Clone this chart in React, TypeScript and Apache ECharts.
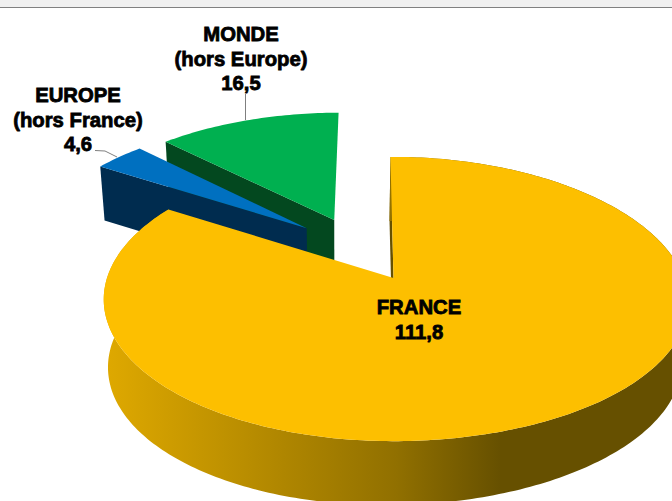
import React, { useEffect, useRef } from "react";
import * as echarts from "echarts";

// Data
const names = ["FRANCE", "EUROPE", "MONDE"];
const subtitles = ["", "(hors France)", "(hors Europe)"];
const values = [111.8, 4.6, 16.5];

// Styles (same order as the data)
const topColors = ["#fdbf00", "#0070c0", "#00b050"];
const wallColors = ["#665000", "#002c4f", "#03481f"];
const explodeU = [0, -0.318, -0.219];
const explodeV = [0, -0.378, -0.444];
const labelPos = [
  [419, 319.5],
  [78, 119.5],
  [241, 58.5],
];

// Perspective of the pie plane
const CX = 393.5;
const CY = 278;
const RX = 289;
const RY = 139;
const K = 0.148;
const START_DEG = -0.7;
const VANISH_X = 340;

const total = values.reduce((a, b) => a + b, 0);

function fmt(v: number) {
  return v.toFixed(1).replace(".", ",");
}

function project(u: number, v: number) {
  const w = 1 - K * v;
  const pos = Math.max(u, 0);
  return [
    CX + (RX * u) / w + 2.5 * u * u,
    CY + (RY * v) / w + 3.5 * pos * pos,
    u,
  ];
}

function below(p: number[], i: number) {
  const depth = i === 0 ? 64 - 4 * p[2] : 54;
  return [VANISH_X + (p[0] - VANISH_X) * 0.982, p[1] + depth];
}

function renderSlice(params: any, api: any) {
  // data is stored in painter's order: last category first
  const i = values.length - 1 - params.dataIndex;
  const val = api.value(0) as number;
  let before = 0;
  for (let j = 0; j < i; j++) before += values[j];
  const a0 = ((START_DEG + (before / total) * 360) * Math.PI) / 180;
  const a1 = a0 + (val / total) * 2 * Math.PI;
  const ou = explodeU[i];
  const ov = explodeV[i];

  const apex = project(ou, ov);
  const rim: number[][] = [];
  const steps = Math.max(6, Math.round(((a1 - a0) * 180) / Math.PI));
  for (let s = 0; s <= steps; s++) {
    const a = a0 + ((a1 - a0) * s) / steps;
    rim.push(project(ou + Math.sin(a), ov - Math.cos(a)));
  }
  const rimBelow = rim.map((p) => below(p, i));
  const apexBelow = below(apex, i);
  const first = rim[0];

  const xy = (p: number[]) => [p[0], p[1]];

  const children: any[] = [
    {
      type: "polygon",
      shape: { points: [xy(apex), xy(first), rimBelow[0], apexBelow] },
      style: { fill: wallColors[i] },
    },
  ];
  if (i === 0) {
    children.push({
      type: "polygon",
      shape: { points: [...rim.map(xy), ...rimBelow.slice().reverse()] },
      style: {
        fill: new echarts.graphic.LinearGradient(
          104,
          0,
          688,
          0,
          [
            { offset: 0, color: "#dfa900" },
            { offset: 0.5, color: "#917000" },
            { offset: 0.68, color: "#665000" },
            { offset: 1, color: "#665000" },
          ],
          true
        ),
      },
    });
  }
  children.push({
    type: "polygon",
    shape: { points: [xy(apex), ...rim.map(xy)] },
    style: { fill: topColors[i] },
  });
  return { type: "group", children };
}

export default function App() {
  const ref = useRef<HTMLDivElement>(null);
  useEffect(() => {
    const chart = echarts.init(ref.current!, null, { renderer: "svg" });
    const textStyle = (i: number) => ({
      x: labelPos[i][0],
      y: labelPos[i][1],
      text: [names[i], subtitles[i], fmt(values[i])].filter(Boolean).join("\n"),
      align: "center",
      verticalAlign: "middle",
      fontFamily: "Liberation Sans",
      fontWeight: "bold",
      fontSize: 20.3,
      lineHeight: 24.5,
      fill: "#000",
      stroke: "#000",
      lineWidth: 0.8,
    });
    chart.setOption({
      animation: false,
      backgroundColor: "#ffffff",
      series: [
        {
          type: "custom",
          coordinateSystem: "none",
          clip: false,
          silent: true,
          renderItem: renderSlice,
          data: values
            .map((v, i) => ({ name: names[i], value: [v] }))
            .reverse(),
        },
      ],
      graphic: [
        {
          type: "rect",
          silent: true,
          z: 10,
          shape: { x: 0, y: 0, width: 672, height: 7 },
          style: { fill: "#f0f0f0" },
        },
        {
          type: "rect",
          silent: true,
          z: 10,
          shape: { x: 0, y: 7, width: 672, height: 1 },
          style: { fill: "#808080" },
        },
        {
          type: "polyline",
          silent: true,
          z: 10,
          shape: { points: [[245.5, 94], [245.5, 120]] },
          style: { stroke: "#7f7f7f", lineWidth: 1, fill: "none" },
        },
        {
          type: "polyline",
          silent: true,
          z: 10,
          shape: { points: [[95, 150.5], [105, 151], [117, 157]] },
          style: { stroke: "#7f7f7f", lineWidth: 1, fill: "none" },
        },
        ...values.map((_, i) => ({
          type: "text",
          silent: true,
          z: 10,
          style: textStyle(i),
        })),
      ],
    });
    return () => chart.dispose();
  }, []);
  return (
    <div
      ref={ref}
      style={{ position: "fixed", left: 0, top: 0, width: 672, height: 501 }}
    />
  );
}
